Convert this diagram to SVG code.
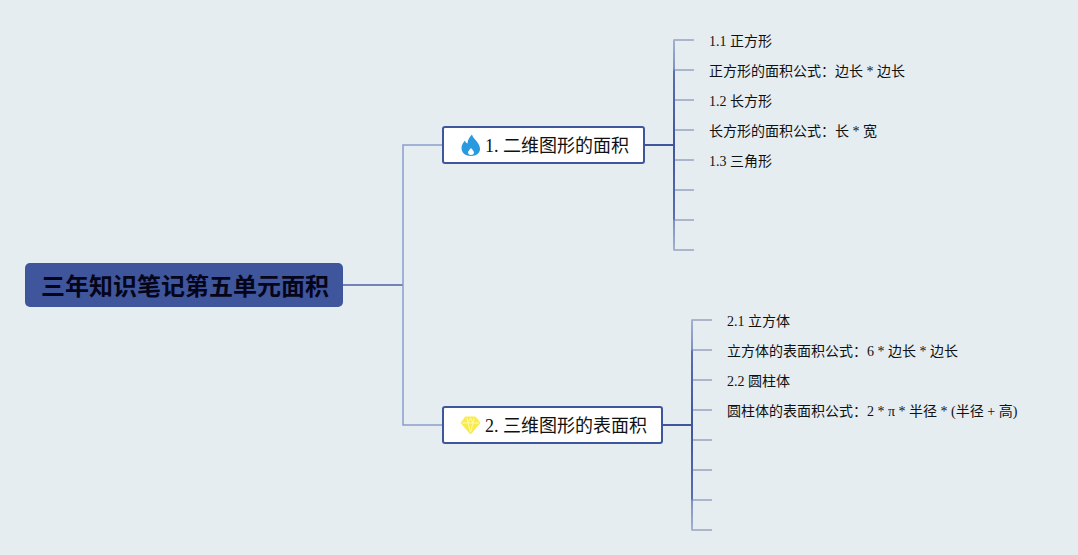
<svg xmlns="http://www.w3.org/2000/svg" width="1078" height="555" viewBox="0 0 1078 555">
<defs>
<linearGradient id="spine" x1="0" y1="0" x2="0" y2="1">
<stop offset="0" stop-color="#a3b0d0"/>
<stop offset="0.14" stop-color="#8092c4"/>
<stop offset="0.15" stop-color="#5a6fb0"/>
<stop offset="0.5" stop-color="#3f559c"/>
<stop offset="0.85" stop-color="#5a6fb0"/>
<stop offset="0.86" stop-color="#8092c4"/>
<stop offset="1" stop-color="#a3b0d0"/>
</linearGradient>
</defs>
<style>
text{font-family:"Liberation Serif","Noto Sans CJK SC",serif;fill:#111}
.leaf{font-size:14px}
.branch{font-size:18px}
.root{font-size:24px;font-weight:700;fill:#05051a}
.box{fill:#fff;stroke:#3f559c;stroke-width:2}
.c1{fill:none;stroke:#4a5fa6;stroke-width:1.5}
.c2{fill:none;stroke:#8b9ccb;stroke-width:1.5}
.c3{fill:none;stroke:#3f559c;stroke-width:2}
.stub{fill:none;stroke:#98a3bf;stroke-width:1.500}
.spine{fill:url(#spine)}
</style>
<rect width="1078" height="555" fill="#e5edf1"/>
<g id="connectors">
<path class="c1" d="M343 285H403"/>
<path class="c2" d="M443 145H403V425H443"/>
<path class="c3" d="M644 145H674M662 425H692"/>
<path class="stub" d="M674 40H694M674 70H694M674 100H694M674 130H694M674 160H694M674 190H694M674 220H694M674 250H694"/>
<path class="stub" d="M692 320H712M692 350H712M692 380H712M692 410H712M692 440H712M692 470H712M692 500H712M692 530H712"/>
<rect class="spine" x="673" y="39.500" width="2" height="211"/>
<rect class="spine" x="691" y="319.500" width="2" height="211"/>
</g>
<g id="root"><rect x="25" y="263" width="318" height="44" rx="5" fill="#3f559c"/><text class="root" x="41" y="295">三年知识笔记第五单元面积</text></g>
<g id="branch1"><rect class="box" x="443" y="127" width="201" height="36" rx="2"/>
<path d="M472 134.500C473 139 479.500 142 480 148.500C480.300 153 476.500 156 471 156C465.500 156 461.500 153 461.500 148C461.500 144.500 463.500 142.500 465 140.500C465.500 142 466 143 467.500 143.500C467.500 140 469.500 137 472 134.500Z M471 155C473 155 474 153.500 474 152.500C474 151 472.500 150 471 148C469.500 150 468 151 468 152.500C468 153.500 469 155 471 155Z" fill="#2a9ae0" fill-rule="evenodd"/>
<text class="branch" x="485" y="152">1. 二维图形的面积</text></g>
<g id="branch2"><rect class="box" x="443" y="407" width="219" height="36" rx="2"/>
<path d="M465.500 417H475.500L480 423L470.500 434L461 423Z" fill="#f9ec4a" stroke="#f9ec4a" stroke-width="1"/>
<path d="M462 423H479M467 418L468 423L470.500 432L473 423L474 418M468 423L470.500 418L473 423" fill="none" stroke="#fdf9b8" stroke-width="1"/>
<text class="branch" x="485" y="432">2. 三维图形的表面积</text></g>
<g id="leaf-1-1"><text class="leaf" x="709" y="46">1.1 正方形</text></g>
<g id="leaf-1-1-1"><text class="leaf" x="709" y="76">正方形的面积公式：边长 * 边长</text></g>
<g id="leaf-1-2"><text class="leaf" x="709" y="106">1.2 长方形</text></g>
<g id="leaf-1-2-1"><text class="leaf" x="709" y="136">长方形的面积公式：长 * 宽</text></g>
<g id="leaf-1-3"><text class="leaf" x="709" y="166">1.3 三角形</text></g>
<g id="leaf-2-1"><text class="leaf" x="727" y="326">2.1 立方体</text></g>
<g id="leaf-2-1-1"><text class="leaf" x="727" y="356">立方体的表面积公式：6 * 边长 * 边长</text></g>
<g id="leaf-2-2"><text class="leaf" x="727" y="386">2.2 圆柱体</text></g>
<g id="leaf-2-2-1"><text class="leaf" x="727" y="416">圆柱体的表面积公式：2 * π * 半径 * (半径 + 高)</text></g>
</svg>
